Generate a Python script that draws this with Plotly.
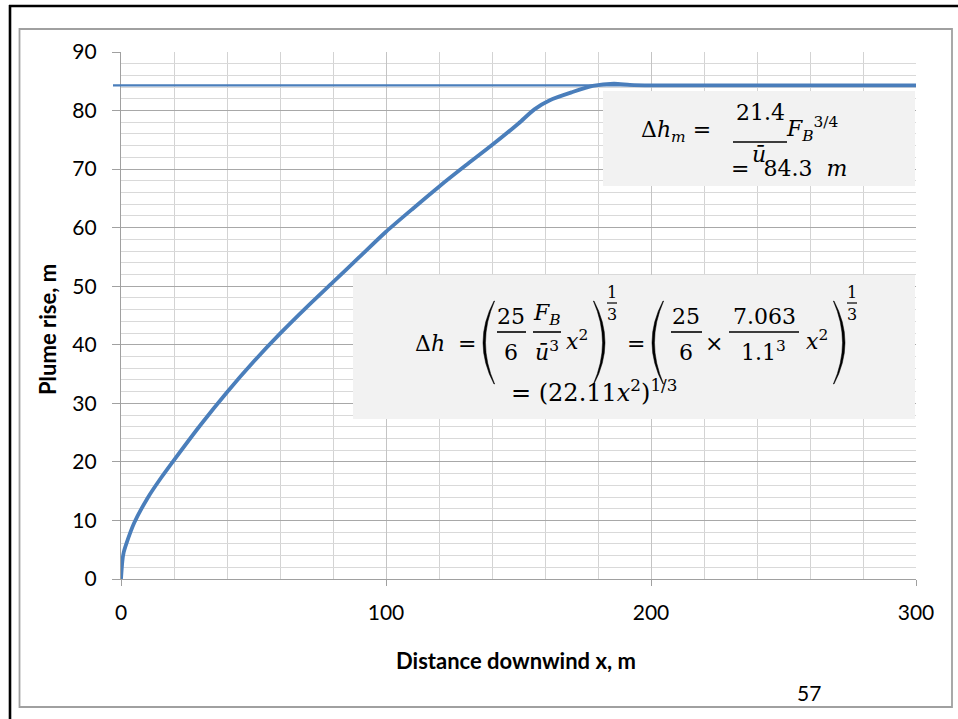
import plotly.graph_objects as go

# ---- data ----
x_dist = [0, 0.5, 1, 2, 5, 10, 15, 20, 30, 40, 50, 60, 70, 80, 90, 100, 110, 120, 130,
          140, 150, 156, 162, 170, 178, 186, 192, 200, 250, 300]
plume_rise = [0, 3.0, 4.5, 6.0, 9.6, 13.8, 17.2, 20.3, 26.3, 31.9, 37.1, 41.9, 46.4, 50.7,
              55.0, 59.3, 63.2, 67.0, 70.6, 74.1, 77.8, 80.2, 81.8, 83.1, 84.2, 84.6,
              84.4, 84.3, 84.3, 84.3]
max_rise = 84.3
x_title = "Distance downwind x, m"
y_title = "Plume rise, m"
page_no = "57"

W, H = 958, 719
L, R, T, B = 121, 916, 52, 579


def px(v):
    return (v - L) / (R - L)


def py(v):
    return (B - v) / (B - T)


BLUE = "#4a7ebb"
fig = go.Figure()
fig.add_trace(go.Scatter(x=x_dist, y=plume_rise, mode="lines",
                         line=dict(color=BLUE, width=3.8, shape="spline", smoothing=0.7),
                         hoverinfo="skip", showlegend=False))

shapes = []
annotations = []

# horizontal line at max rise (extends into the tick area as in reference)
shapes.append(dict(type="line", xref="paper", yref="y", x0=px(113), x1=px(916),
                   y0=max_rise, y1=max_rise, line=dict(color=BLUE, width=2.4),
                   layer="above"))

# outer black frame (left & top visible) and inner grey chart border
shapes.append(dict(type="line", xref="paper", yref="paper", x0=px(10), x1=px(10),
                   y0=py(5), y1=py(730), line=dict(color="black", width=2.6)))
shapes.append(dict(type="line", xref="paper", yref="paper", x0=px(9), x1=px(970),
                   y0=py(6), y1=py(6), line=dict(color="black", width=2.6)))
shapes.append(dict(type="rect", xref="paper", yref="paper", x0=px(19.5), x1=px(952),
                   y0=py(29), y1=py(707), line=dict(color="#a0a0a0", width=1.8)))

# grey equation boxes
shapes.append(dict(type="rect", xref="paper", yref="paper", x0=px(603), x1=px(915),
                   y0=py(91), y1=py(186), fillcolor="#f2f2f2", line=dict(width=0),
                   layer="above"))
shapes.append(dict(type="rect", xref="paper", yref="paper", x0=px(353), x1=px(915),
                   y0=py(275), y1=py(419), fillcolor="#f2f2f2", line=dict(width=0),
                   layer="above"))

MF = "DejaVu Serif"


def txt(s, x, y, size=22, xanchor="center"):
    annotations.append(dict(text=s, x=px(x), y=py(y), xref="paper", yref="paper",
                            showarrow=False, xanchor=xanchor, yanchor="middle",
                            font=dict(family=MF, size=size, color="black")))


def bar(x0, x1, y, w=1.6):
    shapes.append(dict(type="line", xref="paper", yref="paper", x0=px(x0), x1=px(x1),
                       y0=py(y), y1=py(y), line=dict(color="black", width=w),
                       layer="above"))


def paren(xl, xr, ytop, ybot, left=True, t=2.2):
    ym = (ytop + ybot) / 2
    if left:
        outer, tip = xl, xr
        c1 = 2 * outer - tip
        c2 = 2 * (outer + t) - tip
        e = tip + 0.6
    else:
        outer, tip = xr, xl
        c1 = 2 * outer - tip
        c2 = 2 * (outer - t) - tip
        e = tip - 0.6
    path = (f"M {px(tip)},{py(ytop)} Q {px(c1)},{py(ym)} {px(tip)},{py(ybot)} "
            f"L {px(e)},{py(ybot)} Q {px(c2)},{py(ym)} {px(e)},{py(ytop)} Z")
    shapes.append(dict(type="path", xref="paper", yref="paper", path=path,
                       fillcolor="black", line=dict(color="black", width=0.5),
                       layer="above"))


# ---- box 1 : Δh_m ----
txt("Δ<i>h</i><sub><i>m</i></sub> =", 676, 131)
txt("21.4", 760, 113)
bar(733, 787, 142)
txt("<i>ū</i>", 759, 154)
txt("<i>F</i><sub><i>B</i></sub><sup>3/4</sup>", 812, 129)
txt("=  84.3  <i>m</i>", 789, 168)

# ---- box 2 : Δh ----
txt("Δ<i>h</i>", 430, 343)
txt("=", 467, 343)
paren(483, 494, 301, 384, left=True)
txt("25", 511, 316)
bar(497, 526, 332)
txt("6", 511, 352)
txt("<i>F</i><sub><i>B</i></sub>", 547, 314)
bar(533, 561, 332)
txt("<i>ū</i><sup>3</sup>", 547, 351)
txt("<i>x</i><sup>2</sup>", 577, 340)
paren(594, 605, 301, 384, left=False)
txt("1", 612, 292, size=16)
bar(607, 617, 303, w=1.2)
txt("3", 612, 314, size=16)
txt("=", 636, 343)
paren(652, 663, 301, 384, left=True)
txt("25", 686, 316)
bar(671, 702, 332)
txt("6", 686, 352)
txt("×", 714, 343)
txt("7.063", 764, 316)
bar(729, 799, 332)
txt("1.1<sup>3</sup>", 763, 351)
txt("<i>x</i><sup>2</sup>", 817, 340)
paren(834, 845, 301, 384, left=False)
txt("1", 852, 292, size=16)
bar(847, 857, 303, w=1.2)
txt("3", 852, 314, size=16)
txt("= (22.11<i>x</i><sup>2</sup>)<sup>1/3</sup>", 594, 391, size=24)

# ---- axis titles and page number ----
SANS = "Lato"
annotations.append(dict(text=f"<b>{x_title}</b>", x=px(516), y=py(660), xref="paper",
                        yref="paper", showarrow=False, xanchor="center", yanchor="middle",
                        font=dict(family=SANS, size=22, color="black")))
annotations.append(dict(text=f"<b>{y_title}</b>", x=px(47), y=py(330), xref="paper",
                        yref="paper", showarrow=False, xanchor="center", yanchor="middle",
                        textangle=-90, font=dict(family=SANS, size=22, color="black")))
annotations.append(dict(text=page_no, x=px(809), y=py(692), xref="paper", yref="paper",
                        showarrow=False, xanchor="center", yanchor="middle",
                        font=dict(family=SANS, size=21, color="black")))

fig.update_layout(
    width=W, height=H,
    margin=dict(l=L, r=W - R, t=T, b=H - B, pad=0),
    paper_bgcolor="white", plot_bgcolor="white",
    font=dict(family=SANS, size=21, color="black"),
    shapes=shapes, annotations=annotations,
    xaxis=dict(range=[0, 300], tickmode="linear", tick0=0, dtick=100,
               showgrid=True, gridcolor="#c4c4c4", gridwidth=1.3,
               minor=dict(tickmode="linear", tick0=0, dtick=20, showgrid=True,
                          gridcolor="#d3d3d3", gridwidth=1.3),
               ticks="outside", ticklen=6, tickcolor="#a0a0a0", tickwidth=1.3,
               showline=True, linecolor="#a0a0a0", linewidth=1.3, zeroline=False,
               ticklabelstandoff=9, fixedrange=True),
    yaxis=dict(range=[0, 90], tickmode="linear", tick0=0, dtick=10,
               showgrid=True, gridcolor="#a8a8a8", gridwidth=1.3,
               minor=dict(tickmode="linear", tick0=0, dtick=2, showgrid=True,
                          gridcolor="#d9d9d9", gridwidth=1.3),
               ticks="outside", ticklen=8, tickcolor="#a0a0a0", tickwidth=1.3,
               showline=True, linecolor="#a0a0a0", linewidth=1.3, zeroline=False,
               ticklabelstandoff=11, fixedrange=True),
)

fig.write_html("out.html", config={"displayModeBar": False},
               post_script="document.body.style.margin='0px';")
